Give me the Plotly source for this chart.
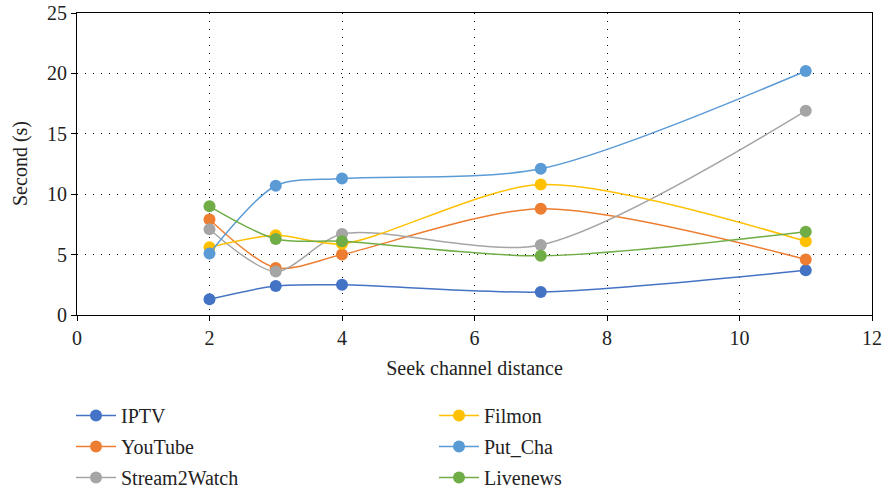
import plotly.graph_objects as go

x_vals = [2, 3, 4, 7, 11]
iptv = [1.3, 2.4, 2.5, 1.9, 3.7]
youtube = [7.9, 3.9, 5.0, 8.8, 4.6]
stream2watch = [7.1, 3.6, 6.7, 5.8, 16.9]
filmon = [5.6, 6.6, 5.9, 10.8, 6.1]
put_cha = [5.1, 10.7, 11.3, 12.1, 20.2]
livenews = [9.0, 6.3, 6.1, 4.9, 6.9]

series_names = ["IPTV", "YouTube", "Stream2Watch", "Filmon", "Put_Cha", "Livenews"]
series_vals = [iptv, youtube, stream2watch, filmon, put_cha, livenews]
colors = ["#4472C4", "#ED7D31", "#A5A5A5", "#FFC000", "#5B9BD5", "#70AD47"]
legend_ids = ["legend", "legend", "legend", "legend2", "legend2", "legend2"]

FONT = "Liberation Serif"
TXT = "#222"
W, H = 882, 490

fig = go.Figure()
for name, vals, col, lg in zip(series_names, series_vals, colors, legend_ids):
    fig.add_trace(go.Scatter(
        x=x_vals, y=vals, name=name, mode="lines+markers",
        line=dict(color=col, width=1.5, shape="spline", smoothing=0.8),
        marker=dict(color=col, size=12),
        legend=lg, legendgroup=name,
    ))

axis_common = dict(
    showline=True, linecolor="black", linewidth=1, mirror=True,
    showgrid=True, gridcolor="black", gridwidth=1, griddash="1px,7px",
    ticks="outside", ticklen=5, tickcolor="black",
    zeroline=False, ticklabeloverflow="allow",
    tickfont=dict(family=FONT, size=20, color=TXT),
)

fig.update_xaxes(range=[0, 12], dtick=2, title=dict(text="Seek channel distance",
                 font=dict(family=FONT, size=20, color=TXT), standoff=12), **axis_common)
fig.update_yaxes(range=[0, 25], dtick=5, **axis_common)

fig.add_annotation(text="Second (s)", textangle=-90, xref="paper", yref="paper",
                   x=0, y=0.5, xanchor="center", yanchor="middle", xshift=-57,
                   showarrow=False, font=dict(family=FONT, size=20, color=TXT))

legend_style = dict(
    orientation="v", yanchor="top", y=1 - 396 / H, yref="container",
    xanchor="left", xref="container",
    font=dict(family=FONT, size=20, color=TXT),
    tracegroupgap=2, itemwidth=40, bgcolor="rgba(0,0,0,0)",
)

fig.update_layout(
    width=W, height=H,
    margin=dict(l=77, r=W - 872, t=13, b=H - 315, autoexpand=False),
    paper_bgcolor="white", plot_bgcolor="white",
    legend=dict(x=71 / W, **legend_style),
    legend2=dict(x=434 / W, **legend_style),
    showlegend=True,
)

fig.write_html("out.html", config={"displayModeBar": False},
               post_script="document.body.style.margin='0';")
